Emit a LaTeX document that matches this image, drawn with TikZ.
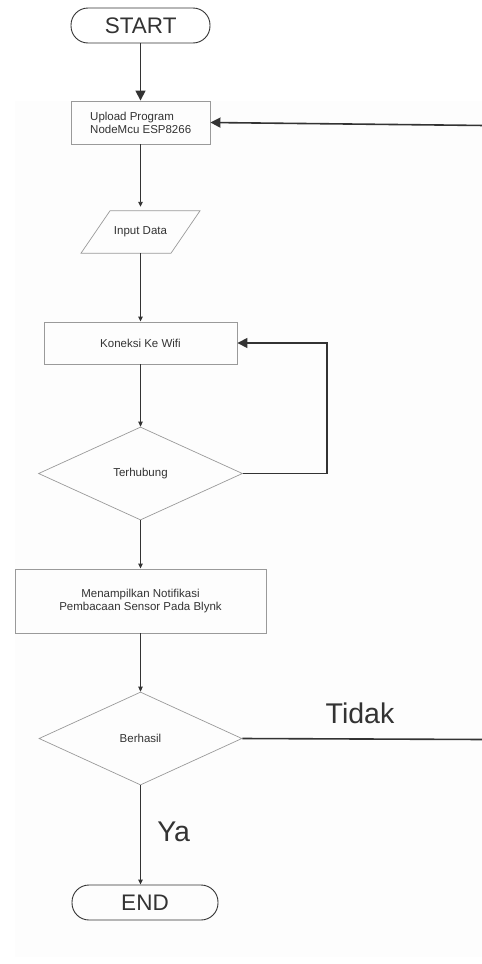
\documentclass[tikz,border=0pt]{standalone}
\usepackage{fontspec}
\setmainfont{Liberation Sans}
\usetikzlibrary{shapes.geometric,arrows.meta}
\definecolor{ink}{HTML}{333333}
\definecolor{edge}{HTML}{9A9A9A}
\begin{document}
\begin{tikzpicture}[x=1pt,y=-1pt,
  txt/.style={text=ink,font=\fontsize{11.5}{13}\selectfont,align=center,inner sep=0pt},
  procbox/.style={draw=edge,line width=0.9pt,txt},
  decide/.style={draw=edge,line width=0.7pt,shape=diamond,txt,inner sep=0pt},
  termbox/.style={draw=ink,line width=0.9pt,rounded corners=17pt,text=ink,font=\fontsize{22.5}{24}\selectfont,inner sep=0pt},
  thin arrow/.style={draw=ink,line width=0.9pt,-{Triangle[length=5pt,width=4.5pt]}},
  thick arrow/.style={draw=ink,line width=1.6pt,-{Triangle[length=10pt,width=10pt]}},
  thick line/.style={draw=ink,line width=1.6pt},
  biglabel/.style={text=ink,font=\fontsize{28.5}{30}\selectfont,anchor=base,inner sep=0pt}]
\useasboundingbox (0,0) rectangle (482,964);
\fill[black!0.7] (15,101) rectangle (482,957);
% nodes
\node[termbox,minimum width=139pt,minimum height=35pt] (start) at (140.5,25.5) {};
\node[text=ink,font=\fontsize{22.5}{24}\selectfont,anchor=base,inner sep=0pt] (startt) at (140.7,33.3) {START};
\node[procbox,minimum width=139pt,minimum height=43pt] (upload) at (140.5,122.5) {};
\node[txt,align=left,anchor=west] (uploadt) at (90,122.5) {Upload Program\\NodeMcu ESP8266};
\node[txt,minimum width=90pt,minimum height=42pt] (inp) at (140.5,232) {Input Data};
\draw[edge,line width=0.7pt] ([xshift=-30.5pt]inp.north) -- ([xshift=59.5pt]inp.north)
  -- ([xshift=30.5pt]inp.south) -- ([xshift=-59.5pt]inp.south) -- cycle;
\node[procbox,minimum width=193pt,minimum height=42pt] (wifi) at (140.5,343) {Koneksi Ke Wifi};
\node[decide,minimum width=204pt,minimum height=93pt] (conn) at (140.5,473.5) {Terhubung};
\node[procbox,minimum width=251pt,minimum height=64pt] (notif) at (140.5,601) {Menampilkan Notifikasi\\Pembacaan Sensor Pada Blynk};
\node[decide,minimum width=203pt,minimum height=93pt] (ok) at (140.5,738.5) {Berhasil};
\node[termbox,minimum width=146pt,minimum height=35pt] (end) at (145,902.5) {};
\node[text=ink,font=\fontsize{22.5}{24}\selectfont,anchor=base,inner sep=0pt] (endt) at (145,910.7) {END};
\node[biglabel] (tidak) at (360,723) {Tidak};
\node[biglabel] (ya) at (173.7,841) {Ya};
\coordinate (loopc) at (327,473.5);
\coordinate (backlow) at (485,739.5);
\coordinate (backhigh) at (485,125.5);
% connectors
\draw[thick arrow] (start) -- (upload);
\draw[thin arrow,shorten >=4pt] (upload) -- (inp);
\draw[thin arrow] (inp) -- (wifi);
\draw[thin arrow] (wifi) -- (conn);
\draw[thick line] (conn.east) -- (loopc);
\draw[thick arrow] (loopc) |- (wifi.east);
\draw[thin arrow] (conn) -- (notif);
\draw[thin arrow] (notif) -- (ok);
\draw[thin arrow] (ok.south) -- (ok.south |- end.north);
\draw[thick line] (ok.east) -- (backlow) -- (backhigh);
\draw[thick arrow] (backhigh) -- (upload.east);
\end{tikzpicture}
\end{document}
